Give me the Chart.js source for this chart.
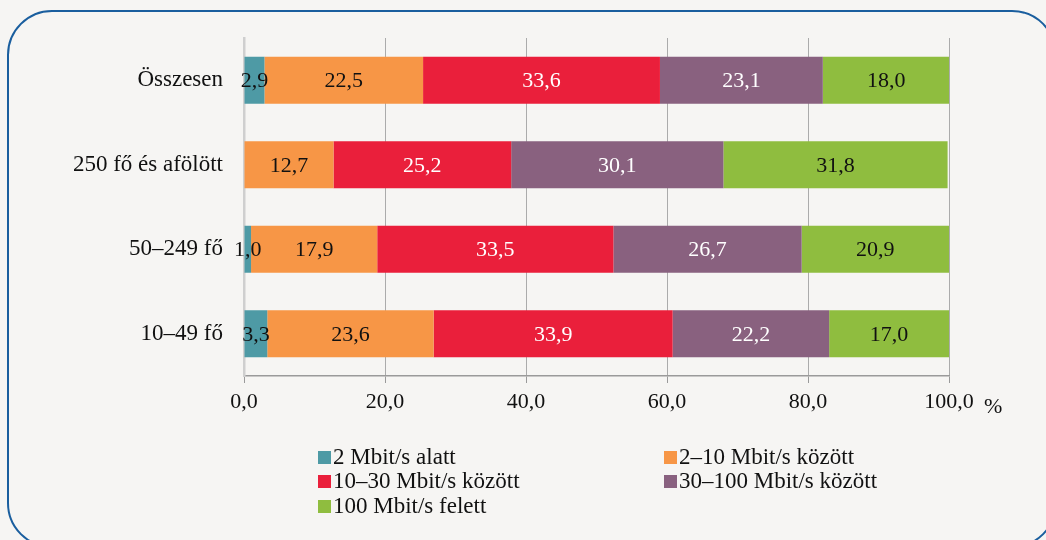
<!DOCTYPE html>
<html>
<head>
<meta charset="utf-8">
<script src="https://cdn.jsdelivr.net/npm/chart.js@4"></script>
<style>
  html, body { margin: 0; padding: 0; background: #f6f5f3; }
  .wrap { position: relative; width: 1046px; height: 540px; overflow: hidden; }
  .frame {
    position: absolute; left: 7px; top: 10px; width: 1050px; height: 538px;
    box-sizing: border-box; border: 2.5px solid #1a5e9e; border-radius: 45px;
    pointer-events: none;
  }
</style>
</head>
<body>
<div class="wrap">
  <canvas id="chart" width="1046" height="540"></canvas>
  <div class="frame"></div>
</div>
<script>
const categories = ['Összesen', '250 fő és afölött', '50–249 fő', '10–49 fő'];
const seriesNames = ['2 Mbit/s alatt', '2–10 Mbit/s között', '10–30 Mbit/s között', '30–100 Mbit/s között', '100 Mbit/s felett'];
const below2 = [2.9, null, 1.0, 3.3];
const from2to10 = [22.5, 12.7, 17.9, 23.6];
const from10to30 = [33.6, 25.2, 33.5, 33.9];
const from30to100 = [23.1, 30.1, 26.7, 22.2];
const above100 = [18.0, 31.8, 20.9, 17.0];
const xTicks = [0, 20, 40, 60, 80, 100];

const colors = ['#4e9aa5', '#f79646', '#ea1f3b', '#89617f', '#8fbd3f'];
const labelColors = ['#111', '#111', '#fff', '#fff', '#111'];
const FONT = '"Liberation Serif", "Times New Roman", serif';

function fmt(v) {
    return v.toFixed(1).replace('.', ',');
}

const valueLabels = {
    id: 'valueLabels',
    afterDatasetsDraw(chart) {
        const ctx = chart.ctx;
        ctx.save();
        ctx.font = '22px ' + FONT;
        ctx.textAlign = 'center';
        ctx.textBaseline = 'middle';
        chart.data.datasets.forEach((ds, i) => {
            const meta = chart.getDatasetMeta(i);
            meta.data.forEach((bar, j) => {
                const v = ds.data[j];
                if (v === null || v === undefined) return;
                ctx.fillStyle = labelColors[i];
                ctx.fillText(fmt(v), (bar.x + bar.base) / 2, bar.y + 1);
            });
        });
        ctx.restore();
    }
};

const extras = {
    id: 'extras',
    afterDraw(chart) {
        const ctx = chart.ctx;
        ctx.save();
        ctx.font = '22px ' + FONT;
        ctx.fillStyle = '#111';
        ctx.textBaseline = 'middle';
        ctx.textAlign = 'left';
        ctx.fillText('%', 984, 407);

        // two column legend
        ctx.font = '23px ' + FONT;
        const cols = [318, 664];
        const rowY = [457, 481, 506];
        chart.data.datasets.forEach((ds, i) => {
            const x = cols[i % 2];
            const y = rowY[Math.floor(i / 2)];
            ctx.fillStyle = ds.backgroundColor;
            ctx.fillRect(x, y - 6, 13, 13);
            ctx.fillStyle = '#111';
            ctx.fillText(ds.label, x + 15, y + 1);
        });
        ctx.restore();
    }
};

const background = {
    id: 'background',
    beforeDraw(chart) {
        const ctx = chart.ctx;
        ctx.save();
        ctx.fillStyle = '#f6f5f3';
        ctx.fillRect(0, 0, chart.width, chart.height);
        ctx.restore();
    }
};

const seriesData = [below2, from2to10, from10to30, from30to100, above100];

new Chart(document.getElementById('chart'), {
    type: 'bar',
    data: {
        labels: categories,
        datasets: seriesData.map((d, i) => ({
            label: seriesNames[i],
            data: d,
            backgroundColor: colors[i],
            borderWidth: 0,
            barPercentage: 0.556,
            categoryPercentage: 1
        }))
    },
    options: {
        indexAxis: 'y',
        responsive: false,
        animation: false,
        layout: { padding: { top: 38, right: 97, bottom: 124, left: 0 } },
        plugins: {
            legend: { display: false },
            tooltip: { enabled: false }
        },
        scales: {
            x: {
                stacked: true,
                min: 0,
                max: 100,
                afterBuildTicks(scale) {
                    scale.ticks = xTicks.map(v => ({ value: v }));
                },
                afterFit(scale) { scale.height = 40; },
                grid: {
                    color: ctx => ctx.index === 0 ? 'rgba(0,0,0,0)' : '#ababab',
                    tickColor: '#9a9a9a',
                    tickLength: 7,
                    lineWidth: 1
                },
                border: { color: '#9a9a9a', width: 1.5 },
                ticks: {
                    color: '#111',
                    font: { family: FONT, size: 22 },
                    padding: 6,
                    maxRotation: 0,
                    callback: v => fmt(v)
                }
            },
            y: {
                stacked: true,
                afterFit(scale) { scale.width = 244; },
                grid: { display: false, drawTicks: false },
                border: { color: '#cfcfcf', width: 2.5 },
                ticks: {
                    color: '#111',
                    font: { family: FONT, size: 23 },
                    padding: 21
                }
            }
        }
    },
    plugins: [background, valueLabels, extras]
});
</script>
</body>
</html>
